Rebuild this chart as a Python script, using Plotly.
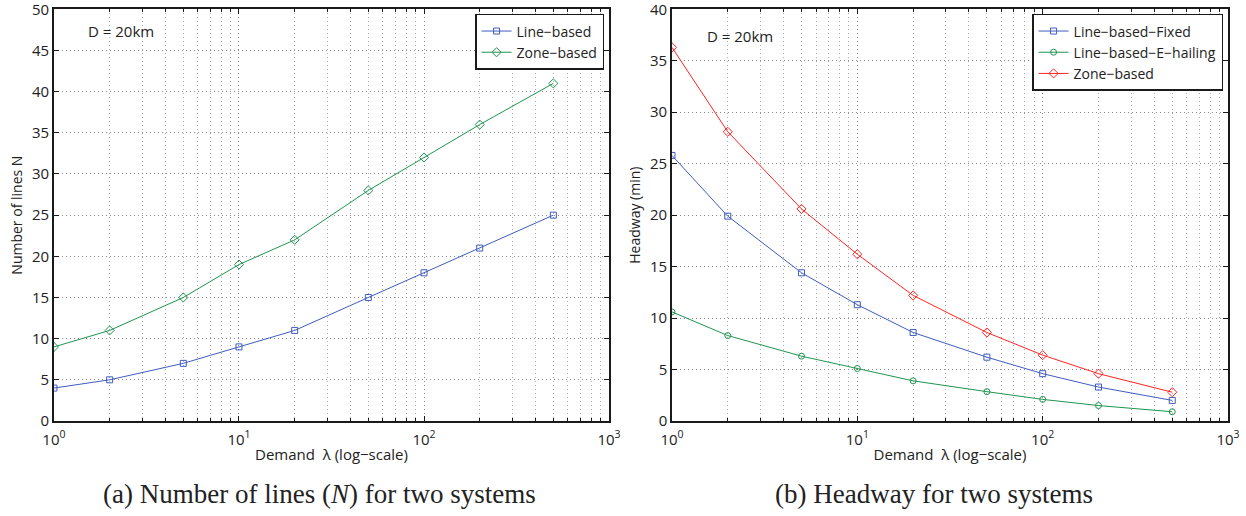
import plotly.graph_objects as go
from plotly.subplots import make_subplots

# demand values (log scale)
demand = [1, 2, 5, 10, 20, 50, 100, 200, 500]

# (a) number of lines
lines_line_based = [4, 5, 7, 9, 11, 15, 18, 21, 25]
lines_zone_based = [9, 11, 15, 19, 22, 28, 32, 36, 41]

# (b) headway (min)
headway_fixed = [25.8, 19.9, 14.4, 11.3, 8.6, 6.2, 4.6, 3.3, 2.0]
headway_ehailing = [10.6, 8.3, 6.3, 5.1, 3.9, 2.85, 2.1, 1.5, 0.9]
headway_zone = [36.3, 28.1, 20.6, 16.2, 12.2, 8.6, 6.4, 4.6, 2.8]

x_tickvals = [1, 10, 100, 1000]
x_ticktext = ["10<sup>0</sup>", "10<sup>1</sup>", "10<sup>2</sup>", "10<sup>3</sup>"]
y1_ticks = [0, 5, 10, 15, 20, 25, 30, 35, 40, 45, 50]
y2_ticks = [0, 5, 10, 15, 20, 25, 30, 35, 40]

BLUE = "#3f5cbf"
GREEN = "#1f9450"
RED = "#ff2323"
TXT = "#222222"
SANS = "Open Sans, Noto Sans, sans-serif"
SERIF = "Liberation Serif, Times New Roman, serif"

fig = make_subplots(rows=1, cols=2)

fig.add_trace(go.Scatter(x=demand, y=lines_line_based, name="Line−based", mode="lines+markers",
                         line=dict(color=BLUE, width=1),
                         marker=dict(symbol="square-open", size=6, color=BLUE),
                         legend="legend"), row=1, col=1)
fig.add_trace(go.Scatter(x=demand, y=lines_zone_based, name="Zone−based", mode="lines+markers",
                         line=dict(color=GREEN, width=1),
                         marker=dict(symbol="diamond-open", size=7, color=GREEN),
                         legend="legend"), row=1, col=1)

fig.add_trace(go.Scatter(x=demand, y=headway_fixed, name="Line−based−Fixed", mode="lines+markers",
                         line=dict(color=BLUE, width=1),
                         marker=dict(symbol="square-open", size=6, color=BLUE),
                         legend="legend2"), row=1, col=2)
fig.add_trace(go.Scatter(x=demand, y=headway_ehailing, name="Line−based−E−hailing", mode="lines+markers",
                         line=dict(color=GREEN, width=1),
                         marker=dict(symbol="circle-open", size=6, color=GREEN),
                         legend="legend2"), row=1, col=2)
fig.add_trace(go.Scatter(x=demand, y=headway_zone, name="Zone−based", mode="lines+markers",
                         line=dict(color=RED, width=1),
                         marker=dict(symbol="diamond-open", size=7, color=RED),
                         legend="legend2"), row=1, col=2)

axis_common = dict(
    showline=True, linecolor="#1a1a1a", linewidth=1.5, mirror="ticks",
    ticks="inside", ticklen=5, tickcolor="#1a1a1a", tickwidth=1,
    showgrid=True, gridcolor="#8a8a8a", griddash="1px,3px", gridwidth=1,
    zeroline=False, automargin=False, ticklabeloverflow="allow",
    tickfont=dict(family=SANS, size=15, color=TXT),
)

fig.update_xaxes(type="log", range=[0, 3], tickvals=x_tickvals, ticktext=x_ticktext,
                 ticklabelstandoff=4,
                 minor=dict(dtick="D1", ticks="inside", ticklen=3, tickcolor="#1a1a1a",
                            showgrid=True, gridcolor="#ababab", griddash="1px,3px", gridwidth=1),
                 title=dict(text="Demand  λ (log−scale)", font=dict(family=SANS, size=15, color=TXT),
                            standoff=2),
                 **axis_common)
fig.update_yaxes(**axis_common)
fig.update_yaxes(range=[0, 50], tickvals=y1_ticks, row=1, col=1,
                 title=dict(text="Number of lines N", font=dict(family=SANS, size=14, color=TXT),
                            standoff=6))
fig.update_yaxes(range=[0, 40], tickvals=y2_ticks, row=1, col=2,
                 title=dict(text="Headway (min)", font=dict(family=SANS, size=14, color=TXT),
                            standoff=6))

fig.update_layout(
    width=1246, height=516, autosize=False,
    margin=dict(l=0, r=0, t=0, b=0),
    paper_bgcolor="white", plot_bgcolor="white",
    xaxis=dict(domain=[0.0433, 0.4888]),
    xaxis2=dict(domain=[0.5393, 0.9856]),
    yaxis=dict(domain=[0.1841, 0.982]),
    yaxis2=dict(domain=[0.1841, 0.982]),
    legend=dict(x=0.4848, y=0.973, xanchor="right", yanchor="top",
                bgcolor="white", bordercolor="#1a1a1a", borderwidth=1.5,
                font=dict(family=SANS, size=14, color=TXT),
                tracegroupgap=0, itemwidth=30),
    legend2=dict(x=0.9816, y=0.973, xanchor="right", yanchor="top",
                 bgcolor="white", bordercolor="#1a1a1a", borderwidth=1.5,
                 font=dict(family=SANS, size=14, color=TXT),
                 tracegroupgap=0, itemwidth=30),
    showlegend=True,
)

fig.add_annotation(text="D = 20km", xref="paper", yref="paper", x=86 / 1246, y=(516 - 31) / 516,
                   xanchor="left", yanchor="middle", showarrow=False,
                   font=dict(family=SANS, size=15, color=TXT))
fig.add_annotation(text="D = 20km", xref="paper", yref="paper", x=705 / 1246, y=(516 - 36) / 516,
                   xanchor="left", yanchor="middle", showarrow=False,
                   font=dict(family=SANS, size=15, color=TXT))

fig.add_annotation(text="(a) Number of lines (<i>N</i>) for two systems", xref="paper", yref="paper",
                   x=320 / 1246, y=(516 - 494) / 516, xanchor="center", yanchor="middle",
                   showarrow=False, font=dict(family=SERIF, size=27, color=TXT))
fig.add_annotation(text="(b) Headway for two systems", xref="paper", yref="paper",
                   x=934 / 1246, y=(516 - 494) / 516, xanchor="center", yanchor="middle",
                   showarrow=False, font=dict(family=SERIF, size=27, color=TXT))

# drop the browser's default body margin so the figure sits at the page corner
fig.write_html("out.html", config={"displayModeBar": False},
               post_script="document.body.style.margin='0';")
